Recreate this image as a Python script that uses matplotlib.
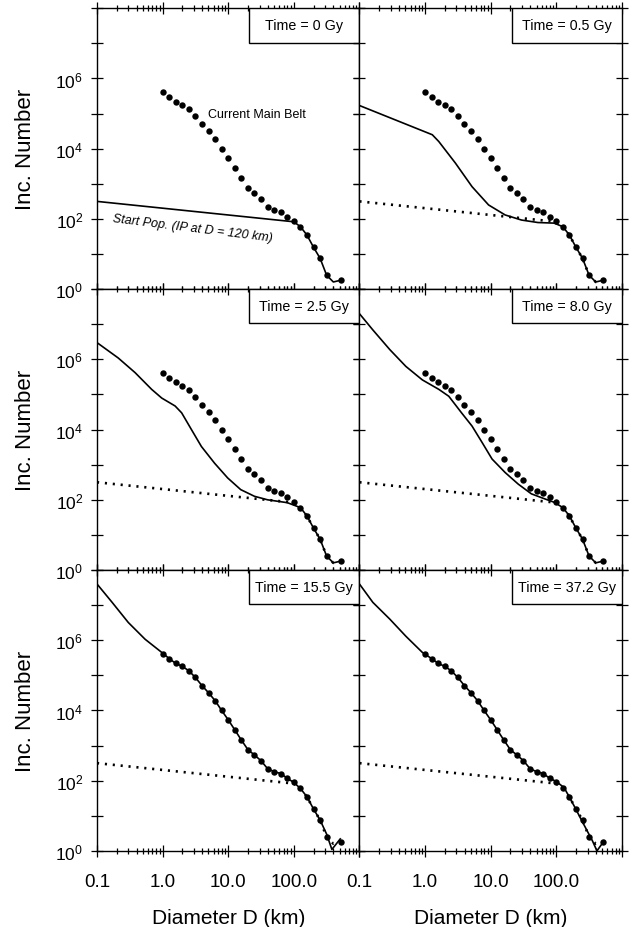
import numpy as np
import matplotlib.pyplot as plt
from matplotlib.patches import Rectangle
from matplotlib.ticker import LogLocator, NullFormatter, NullLocator

plt.rcParams['font.family'] = ['Liberation Sans', 'DejaVu Sans']
plt.rcParams['mathtext.fontset'] = 'custom'
plt.rcParams['mathtext.rm'] = 'Liberation Sans'

# current main belt (dots)
belt_D = [1.0, 1.26, 1.58, 2.0, 2.51, 3.16, 3.98, 5.01, 6.31, 7.94, 10.0, 12.6, 15.8,
          20.0, 25.1, 31.6, 39.8, 50.1, 63.1, 79.4, 100, 126, 158, 200, 251, 316, 520]
belt_N = [4.1e5, 3.0e5, 2.2e5, 1.8e5, 1.35e5, 8.7e4, 5.1e4, 3.2e4, 1.9e4, 1.0e4, 5.4e3,
          2.8e3, 1.45e3, 760, 540, 370, 220, 180, 160, 117, 89, 60, 35, 15.5, 7.6, 2.5, 1.8]

# starting population
start_D = [0.1, 100, 126, 158, 200, 251, 316, 400, 520]
start_N = [316, 83, 60, 35, 15.5, 7.6, 2.5, 1.6, 1.8]

# model populations at later times
t05_D = [0.1, 1.29, 1.62, 2.9, 5.2, 9.3, 16.6, 29.5, 52.5, 93, 126, 158, 200, 251, 316, 400, 520]
t05_N = [1.7e5, 2.5e4, 1.6e4, 3.9e3, 830, 250, 130, 93, 79, 76, 60, 35, 15.5, 7.6, 2.5, 1.6, 1.8]

t25_D = [0.1, 0.21, 0.38, 0.68, 0.97, 1.55, 1.95, 2.75, 3.9, 6.2, 9.8, 15.5, 25.1, 39.8, 79.4,
         126, 158, 200, 251, 316, 400, 520]
t25_N = [3.0e6, 1.1e6, 4.2e5, 1.4e5, 7.9e4, 4.7e4, 3.0e4, 1.0e4, 3.3e3, 1.1e3, 420, 195, 126,
         100, 83, 60, 35, 15.5, 7.6, 2.5, 1.6, 1.8]

t80_D = [0.1, 0.16, 0.29, 0.51, 0.91, 1.62, 2.3, 3.6, 5.2, 7.4, 10.5, 16.6, 26.3, 41.7, 66.1,
         93, 126, 158, 200, 251, 316, 400, 520]
t80_N = [2.0e7, 6.9e6, 1.9e6, 6.3e5, 2.6e5, 1.4e5, 8.9e4, 3.0e4, 1.26e4, 4.3e3, 1.45e3, 600,
         280, 148, 107, 85, 60, 35, 15.5, 7.6, 2.5, 1.6, 1.8]

t155_D = [0.1, 0.17, 0.3, 0.54, 1.0, 1.26, 1.58, 2.0, 2.51, 3.16, 3.98, 5.01, 6.31, 7.94,
          10.0, 12.6, 15.8, 20.0, 25.1, 31.6, 39.8, 50.1, 63.1, 79.4, 100, 126, 158, 200,
          251, 316, 380, 510]
t155_N = [4.0e7, 1.2e7, 3.2e6, 1.07e6, 4.3e5, 3.0e5, 2.2e5, 1.8e5, 1.35e5, 8.7e4, 5.1e4,
          3.2e4, 1.9e4, 1.0e4, 5.4e3, 2.8e3, 1.45e3, 760, 540, 370, 220, 180, 160, 117, 89,
          60, 35, 15.5, 7.6, 3.0, 1.1, 2.2]

t372_D = [0.1, 0.16, 0.29, 0.51, 0.91, 1.26, 1.58, 2.0, 2.51, 3.16, 3.98, 5.01, 6.31, 7.94,
          10.0, 12.6, 15.8, 20.0, 25.1, 31.6, 39.8, 50.1, 63.1, 79.4, 100, 132, 186, 269,
          355, 417, 537]
t372_N = [4.0e7, 1.2e7, 4.0e6, 1.3e6, 4.5e5, 3.0e5, 2.2e5, 1.8e5, 1.35e5, 8.7e4, 5.1e4,
          3.2e4, 1.9e4, 1.0e4, 5.4e3, 2.8e3, 1.45e3, 760, 540, 370, 220, 180, 160, 117, 95,
          63, 19.5, 5.2, 1.95, 1.0, 1.95]

times = ['0', '0.5', '2.5', '8.0', '15.5', '37.2']
models = [(start_D, start_N), (t05_D, t05_N), (t25_D, t25_N), (t80_D, t80_N),
          (t155_D, t155_N), (t372_D, t372_N)]

x_ticks = [0.1, 1, 10, 100, 1000]
x_labels = ['0.1', '1.0', '10.0', '100.0', '']
y_ticks = [10.0**k for k in range(9)]
y_labels = [r'$\mathregular{10^{%d}}$' % k if k in (0, 2, 4, 6) else '' for k in range(9)]

fig = plt.figure(figsize=(6.32, 9.28), dpi=100)
gs = fig.add_gridspec(3, 2, left=0.1535, right=0.984, top=0.990, bottom=0.082,
                      wspace=0, hspace=0)

for i in range(6):
    row, col = i // 2, i % 2
    ax = fig.add_subplot(gs[row, col])
    ax.set_xscale('log')
    ax.set_yscale('log')

    if i == 0:
        ax.plot(start_D, start_N, color='k', lw=1.2, zorder=2)
    else:
        ax.plot(start_D, start_N, color='k', lw=1.9, ls=(0, (0.8, 2.2)), zorder=2)
        ax.plot(models[i][0], models[i][1], color='k', lw=1.2, zorder=2)
    ax.plot(belt_D, belt_N, 'o', color='k', ms=4.6, mew=0, zorder=3)

    ax.set_xlim(0.1, 1000)
    ax.set_ylim(1, 1e8)

    ax.set_xticks(x_ticks, labels=x_labels if row == 2 else [''] * 5)
    ax.xaxis.set_minor_locator(LogLocator(base=10, subs=np.arange(2, 10)))
    ax.xaxis.set_minor_formatter(NullFormatter())
    ax.set_yticks(y_ticks, labels=y_labels if col == 0 else [''] * 9)
    ax.yaxis.set_minor_locator(NullLocator())
    ax.tick_params(which='both', direction='inout', top=True, right=True, width=0.9)
    ax.tick_params(which='major', length=8)
    ax.tick_params(which='minor', length=4)
    ax.tick_params(axis='y', labelsize=12.5, pad=6)
    ax.tick_params(axis='x', labelsize=13.5, pad=12)
    for s in ax.spines.values():
        s.set_linewidth(1.0)

    if col == 0:
        ax.set_ylabel('Inc. Number', fontsize=16, labelpad=14)
    if row == 2:
        ax.set_xlabel('Diameter D (km)', fontsize=15, labelpad=13)

    ax.add_patch(Rectangle((0.58, 0.878), 0.42, 0.122, transform=ax.transAxes,
                           facecolor='white', edgecolor='k', lw=1.0, zorder=4))
    ax.text(0.79, 0.939, 'Time = %s Gy' % times[i], transform=ax.transAxes,
            ha='center', va='center', fontsize=10.3, zorder=5)

    if i == 0:
        ax.text(0.424, 0.625, 'Current Main Belt', transform=ax.transAxes,
                ha='left', va='center', fontsize=9)
        ax.text(0.057, 0.243, 'Start Pop. (IP at D = 120 km)', transform=ax.transAxes,
                ha='left', va='baseline', fontsize=9, style='italic', rotation=-7,
                rotation_mode='anchor')

fig.savefig('out.png', dpi=100)
